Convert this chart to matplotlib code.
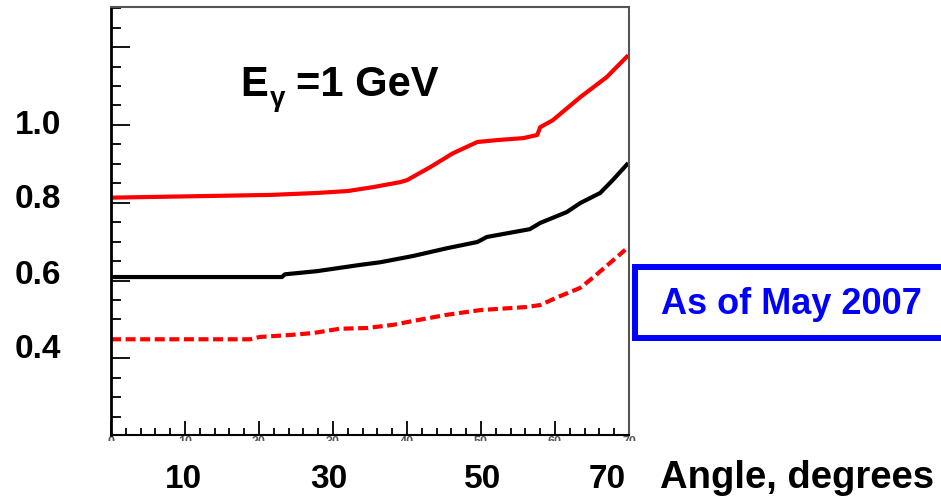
from matplotlib import pyplot as plt
from matplotlib.patches import Rectangle
from matplotlib.ticker import MultipleLocator

plt.rcParams['font.family'] = ['Liberation Sans', 'DejaVu Sans']
plt.rcParams['font.weight'] = 'bold'

#   Data
angle_red = [0, 21.5, 27.8, 32.0, 35.4, 39.1, 40.0, 43.1, 46.2, 49.5, 52.2,
             55.7, 57.6, 58.0, 59.7, 63.4, 67.0, 69.9]
res_red = [0.813, 0.820, 0.825, 0.830, 0.840, 0.853, 0.858, 0.891, 0.927,
           0.956, 0.961, 0.966, 0.974, 0.994, 1.012, 1.071, 1.123, 1.179]

angle_black = [0, 23.1, 23.5, 27.8, 30.7, 33.6, 36.4, 40.8, 45.4, 49.5, 50.8,
               56.6, 58.0, 61.6, 63.4, 66.1, 67.8, 69.9]
res_black = [0.609, 0.609, 0.616, 0.624, 0.632, 0.640, 0.647, 0.663, 0.683,
             0.699, 0.712, 0.732, 0.748, 0.776, 0.799, 0.825, 0.858, 0.902]

angle_dash = [0, 18.8, 20.1, 24.2, 27.3, 30.9, 34.6, 38.1, 40.8, 45.4, 49.9,
              56.2, 58.0, 60.7, 63.4, 65.1, 67.0, 69.5]
res_dash = [0.449, 0.449, 0.455, 0.460, 0.465, 0.476, 0.478, 0.486, 0.496,
            0.512, 0.524, 0.532, 0.537, 0.560, 0.581, 0.607, 0.638, 0.679]

y_labels = ['1.0', '0.8', '0.6', '0.4']
x_labels = ['10', '30', '50', '70']

W, H = 941, 497
fig = plt.figure(figsize=(W / 100, H / 100), dpi=100)
ax = fig.add_axes([111 / W, (H - 435) / H, 518 / W, 428 / H])

ax.plot(angle_red, res_red, color='#ff0000', lw=3, solid_capstyle='butt')
ax.plot(angle_black, res_black, color='black', lw=3, solid_capstyle='butt')
ax.plot(angle_dash, res_dash, color='#ff0000', lw=3, dashes=(2.4, 1.1))

ax.set_xlim(0, 70)
ax.set_ylim(0.203, 1.303)

ax.xaxis.set_major_locator(MultipleLocator(10))
ax.xaxis.set_minor_locator(MultipleLocator(2))
ax.yaxis.set_major_locator(MultipleLocator(0.2))
ax.yaxis.set_minor_locator(MultipleLocator(0.05))
ax.tick_params(axis='both', which='both', direction='in', color='black', width=1.3)
ax.tick_params(axis='x', which='major', length=10, pad=1, labelsize=9, labelcolor='#555')
ax.tick_params(axis='x', which='minor', length=5)
ax.tick_params(axis='y', which='major', length=14, labelleft=False)
ax.tick_params(axis='y', which='minor', length=7)

ax.spines['left'].set_linewidth(2)
ax.spines['bottom'].set_linewidth(1.5)
for s in ['top', 'right']:
    ax.spines[s].set_linewidth(1.5)
    ax.spines[s].set_color('#555')

# hide most of the small tick labels, like the cropped original
fig.add_artist(Rectangle((0, (H - 456) / H), 1, 15 / H, transform=fig.transFigure,
                         facecolor='white', edgecolor='none', zorder=10))

#   Big hand-placed labels
y_pos = [125, 200, 275, 349]
for lab, py in zip(y_labels, y_pos):
    fig.text(15 / W, (H - py) / H, lab, fontsize=24, fontweight='bold',
             ha='left', va='center', zorder=11)

x_pos = [183.5, 328.5, 483, 607.5]
for lab, px in zip(x_labels, x_pos):
    fig.text(px / W, (H - 488) / H, lab, fontsize=24, fontweight='bold',
             ha='center', va='baseline', zorder=11)
fig.text(660 / W, (H - 488) / H, 'Angle, degrees', fontsize=27.5, fontweight='bold',
         ha='left', va='baseline', zorder=11)

# E_gamma = 1 GeV
fig.text(240 / W, (H - 96) / H, 'E', fontsize=30, fontweight='bold', va='baseline')
fig.text(270 / W, (H - 106) / H, 'γ', fontsize=20, fontweight='bold', va='baseline')
fig.text(296 / W, (H - 96) / H, '=1 GeV', fontsize=30, fontweight='bold', va='baseline')

# blue note box
fig.add_artist(Rectangle((635 / W, (H - 338) / H), 320 / W, 71 / H,
                         transform=fig.transFigure, facecolor='white',
                         edgecolor='#0000ff', lw=4.3, zorder=11))
fig.text(791 / W, (H - 304) / H, 'As of May 2007', fontsize=26, fontweight='bold',
         color='#0000ff', ha='center', va='center', zorder=12)

fig.savefig('out.png', dpi=100)
